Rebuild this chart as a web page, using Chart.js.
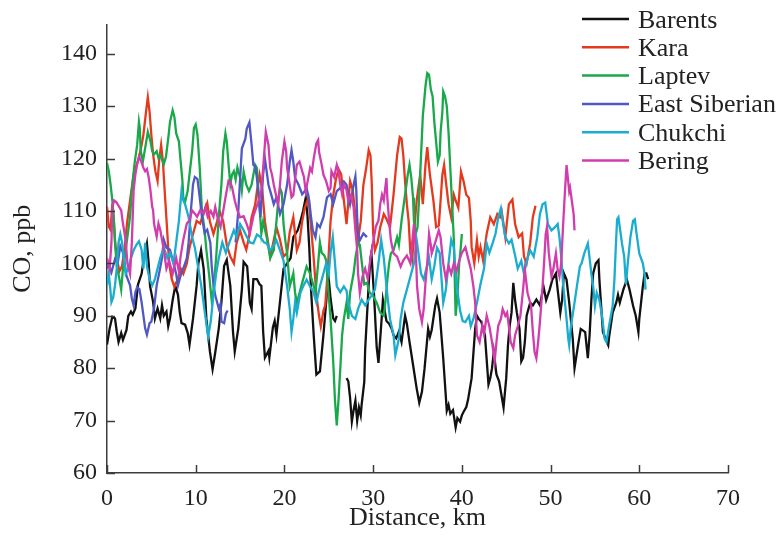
<!DOCTYPE html>
<html>
<head>
<meta charset="utf-8">
<script src="https://cdn.jsdelivr.net/npm/chart.js@4/dist/chart.umd.min.js"></script>
<style>
  html, body { margin: 0; padding: 0; background: #fff; }
  #wrap { width: 783px; height: 537px; position: relative; }
</style>
</head>
<body>
<div id="wrap"><canvas id="chart"></canvas></div>
<script>
// [distance km, CO ppb]; null marks a break in the track
const barents = [[0,84.5],[0.3,87.6],[0.6,89.8],[0.9,89.5],[1.1,87],[1.3,85],[1.6,86.7],[1.8,85.4],[2.2,87.3],[2.4,90],[2.7,90.8],[2.9,90.2],[3.2,91.4],[3.5,96],[3.9,98],[4.2,101.5],[4.5,103.8],[4.7,100],[4.85,95.7],[5.2,92.6],[5.4,89.5],[5.7,91.4],[6.0,89.5],[6.2,92],[6.4,90],[6.7,90.8],[6.9,88],[7.1,89.5],[7.4,93],[7.7,95.7],[8.0,94],[8.2,90.7],[8.4,88.6],[8.8,88.3],[9.1,86.7],[9.3,84.5],[9.5,87],[9.7,89.5],[10.1,95.7],[10.3,100],[10.6,102.5],[10.9,98.9],[11.2,89.5],[11.6,83.2],[11.9,79.8],[12.2,83],[12.6,87.6],[12.9,92.6],[13.2,99.5],[13.5,100.7],[13.9,95.7],[14.2,87],[14.4,83.2],[14.8,87.6],[15.2,95],[15.4,100.3],[15.8,99.4],[16.1,92.5],[16.3,91.3],[16.5,97],[16.9,97],[17.2,96],[17.4,95.7],[17.6,87],[17.8,82],[18.2,83.3],[18.3,82],[18.7,87.8],[18.9,89],[19.1,86.4],[19.5,92.7],[19.9,99],[20.3,100],[20.7,101],[21.0,105],[21.5,106.3],[21.8,108],[22.1,110],[22.4,112.5],[22.6,109],[22.8,103],[23.0,95],[23.3,86.3],[23.6,78.8],[24.0,79.4],[24.4,86.4],[24.8,94.5],[25.0,97],[25.2,93.3],[25.5,89.5],[25.7,89],[25.9,90],[26.4,null],[27.0,78.1],[27.2,77.5],[27.4,74.4],[27.6,69.8],[27.8,72],[28.0,73.8],[28.2,70],[28.4,72.5],[28.6,71],[28.7,73],[29.0,77.4],[29.1,83.6],[29.3,89.8],[29.5,96.1],[29.7,101],[29.8,102],[30.1,94],[30.4,84],[30.6,81],[30.9,88],[31.1,93],[31.3,91],[31.5,89],[31.8,88.5],[32.1,87.5],[32.3,86.3],[32.6,85.7],[32.9,87],[33.2,85],[33.6,90],[33.8,88.5],[34.1,85],[34.5,80.6],[34.9,76.2],[35.2,73.4],[35.5,75.5],[35.8,80],[36.2,87.5],[36.4,86],[36.6,87.3],[37.0,91.9],[37.2,93.3],[37.5,90.6],[37.9,81.9],[38.3,71.9],[38.5,73],[38.7,71.3],[39.0,72],[39.3,68.7],[39.5,70.5],[39.8,69.8],[40.0,71],[40.2,71.7],[40.5,72.6],[40.7,74],[41.1,78.1],[41.5,87.5],[41.7,90],[41.9,89.4],[42.2,88.8],[42.6,86.3],[43.0,76.9],[43.2,78.1],[43.4,80],[43.6,83.1],[43.9,78.8],[44.2,77.5],[44.7,72.5],[45.0,78.1],[45.2,84.4],[45.4,88.2],[45.6,90.6],[45.8,96.3],[46.0,93],[46.2,90.6],[46.5,87.5],[46.7,81.3],[46.9,82],[47.1,85],[47.3,90],[47.7,92.5],[48.0,92],[48.4,93.1],[48.8,92],[49.2,95.6],[49.5,93],[49.9,95],[50.2,96.9],[50.6,98.1],[50.8,95],[51.1,90.6],[51.3,93],[51.5,98.1],[51.8,96.9],[52.1,92.5],[52.5,85.6],[52.7,80],[53.1,84.4],[53.4,87.5],[53.9,86.9],[54.2,81.9],[54.4,86.3],[54.6,93.1],[54.8,98.1],[55.1,100],[55.4,100.6],[55.5,97],[55.7,91.9],[55.9,86.9],[56.2,85.6],[56.5,84.4],[56.6,86],[57.0,90.6],[57.4,92.5],[57.6,94],[57.8,92.5],[58.2,95],[58.6,96.9],[58.9,95],[59.3,91.9],[59.6,90],[59.9,86.9],[60.0,89.4],[60.2,92.5],[60.4,95.6],[60.6,98.1],[60.8,98.1],[61.0,97]];

const kara = [[0,110.8],[0.2,107],[0.4,106.4],[0.6,111.4],[0.75,108.9],[0.9,104.5],[1.1,101],[1.4,98.5],[1.7,99.5],[2.0,103],[2.25,107.6],[2.6,112],[3.0,117],[3.2,118.2],[3.6,120.1],[3.9,122.6],[4.1,124.5],[4.4,128.9],[4.6,131.7],[4.8,128.9],[5.0,124.5],[5.2,120.8],[5.45,117.6],[5.7,115.7],[5.9,120],[6.1,122.6],[6.3,119.5],[6.5,113.9],[6.8,105.8],[7.0,100],[7.3,97],[7.6,95.5],[8.0,97],[8.3,99],[8.6,98],[9.0,100],[9.3,103],[9.6,105],[10.1,108.1],[10.5,107.6],[10.85,109.5],[11.3,111.5],[11.6,108],[12.0,105.6],[12.4,108],[12.7,110],[13.1,108],[13.5,103.5],[13.9,101.3],[14.3,100],[14.6,103.8],[15.0,106.3],[15.4,104],[15.7,102.6],[16.0,105],[16.3,108.8],[16.7,111.2],[16.9,113.8],[17.2,116.9],[17.5,114],[17.8,108],[18.0,105.7],[18.4,101.3],[18.8,104.4],[19.1,106.9],[19.5,104.5],[19.9,101.3],[20.3,102],[20.6,106],[21.0,108.8],[21.4,102.5],[21.7,104],[22.0,108],[22.3,110.6],[22.7,112.5],[23.0,107],[23.3,101],[23.6,94],[23.9,90],[24.1,88],[24.4,91],[24.6,92],[24.9,99],[25.2,108],[25.5,113],[25.8,116],[26.1,118],[26.4,117],[26.7,112],[27.0,107.5],[27.4,115.7],[27.7,114],[28.0,109],[28.3,104.5],[28.6,108],[28.9,115],[29.2,118],[29.5,121.6],[29.7,120.6],[29.85,115],[30.0,105.7],[30.2,102.5],[30.5,104],[30.8,106.9],[31.2,109.4],[31.5,108.5],[31.9,106.9],[32.3,113.1],[32.7,120.6],[33.0,124.1],[33.2,123.8],[33.4,120.6],[33.6,115.6],[33.8,111.3],[34.0,108.1],[34.2,101.9],[34.4,100.6],[34.6,105.6],[34.9,111.9],[35.3,116.9],[35.6,111.3],[35.9,118.8],[36.1,122.2],[36.25,119.4],[36.4,116.9],[36.8,111.9],[37.1,106.9],[37.4,107.2],[37.6,111.9],[37.8,116.9],[38.0,118.8],[38.2,115.6],[38.5,111.3],[38.8,108.8],[39.1,113.1],[39.3,112],[39.6,110.6],[39.9,117.5],[40.2,115.6],[40.5,113.1],[40.8,112.5],[41.0,108.1],[41.1,103.1],[41.4,100],[41.7,104.4],[41.9,101.3],[42.1,103.1],[42.4,100.5],[42.8,105.7],[43.2,108.8],[43.6,107.5],[44.0,109.4],[44.3,108.8],[44.5,109.8],[44.9,105],[45.3,111.3],[45.7,112.2],[46.0,107.5],[46.4,105],[46.8,105.7],[47.0,101.3],[47.3,100],[47.7,103.8],[48.0,108.8],[48.3,111]];

const laptev = [[0,119.2],[0.2,117.6],[0.4,115.1],[0.6,112],[0.75,108.9],[0.9,104],[1.1,99.5],[1.4,97],[1.6,95],[1.8,99],[2.0,101],[2.25,104.4],[2.6,108.9],[2.8,113.9],[3.1,119],[3.4,122.6],[3.6,127],[3.7,125.8],[3.8,121.4],[4.05,119.5],[4.3,122],[4.6,125.1],[4.9,123.3],[5.1,121.4],[5.3,120.8],[5.6,121.4],[5.8,120.1],[6.0,120.7],[6.4,118.9],[6.65,120.4],[6.95,124.5],[7.1,127],[7.4,129.2],[7.6,127.9],[7.8,124.8],[8.1,123.3],[8.3,119.5],[8.5,115.8],[8.6,112.6],[8.8,111.7],[9.1,113.9],[9.3,117],[9.6,121.4],[9.8,125.8],[10.0,126.5],[10.2,124.5],[10.45,118.3],[10.7,110.1],[11.0,106.4],[11.2,102.6],[11.5,98],[11.8,93],[12.0,95],[12.3,101],[12.6,108.9],[12.9,115.1],[13.1,121.4],[13.35,124.8],[13.5,123.3],[13.7,118.9],[13.9,115.1],[14.1,117],[14.3,117.6],[14.5,116],[14.7,118.3],[15.0,116.4],[15.2,113.9],[15.4,117.5],[15.7,115],[16.0,113.8],[16.3,115],[16.7,118.8],[16.9,118.2],[17.1,113.2],[17.4,105.7],[17.6,108],[18.0,105],[18.4,101],[18.8,102.5],[19.1,108],[19.3,111.9],[19.5,114.4],[19.7,113.5],[19.9,107.5],[20.1,104.4],[20.3,101.9],[20.6,95.6],[21.0,98.1],[21.2,94.4],[21.4,92.5],[21.8,95],[22.1,96.9],[22.5,99.4],[22.9,98],[23.3,95.6],[23.5,94.4],[23.8,100],[24.0,104],[24.2,102],[24.5,101.5],[24.7,100.6],[24.9,96],[25.2,89.4],[25.5,81.3],[25.7,73.8],[25.9,69.1],[26.1,74],[26.3,80],[26.5,86.3],[26.7,89.4],[27.0,92.5],[27.2,89.4],[27.4,94.4],[27.8,98.1],[28.0,101],[28.3,104],[28.5,103.5],[28.8,99],[29.0,96],[29.3,96.3],[29.6,94.5],[30.0,93.8],[30.4,92.5],[30.8,90.6],[31.2,90],[31.4,93],[31.6,96.9],[31.8,100],[32.0,101.9],[32.3,102.5],[32.7,105],[32.9,103.5],[33.2,108.1],[33.6,113.1],[33.9,116.9],[34.1,118.8],[34.3,116.3],[34.5,112.5],[34.6,108.1],[34.8,105.6],[35.0,106.9],[35.2,113.1],[35.4,120.6],[35.6,128.1],[35.9,133.8],[36.1,136.3],[36.3,136],[36.5,133.2],[36.7,131.9],[36.9,126.9],[37.1,123.2],[37.3,119.4],[37.5,120.6],[37.6,125],[37.8,128.8],[37.9,132.8],[38.1,131.9],[38.3,130],[38.5,125],[38.7,118.1],[38.9,111.3],[39.1,104.4],[39.2,97],[39.3,90],[39.5,93.8],[39.7,100],[39.85,102.5],[40.0,105.6]];

const eastSiberian = [[0,99],[0.15,100],[0.5,98.3],[0.9,100.8],[1.2,100],[1.5,103.3],[1.8,102],[2.0,100],[2.2,97.6],[2.6,95.8],[2.8,93.3],[3.0,92],[3.2,94.5],[3.4,95.5],[3.65,95.1],[3.9,92.6],[4.3,87.6],[4.5,86.4],[4.8,88.6],[5.0,88.9],[5.3,91.4],[5.6,95.8],[5.9,98.3],[6.2,101],[6.4,104.5],[6.7,103],[7.1,102.6],[7.5,100],[7.8,98],[8.0,95.8],[8.4,98.3],[8.7,99.5],[9.0,101],[9.2,104],[9.4,108.9],[9.7,115.1],[9.9,116.5],[10.2,116.1],[10.45,112.6],[10.7,108.9],[11.0,105.8],[11.3,106.4],[11.65,103.9],[11.8,99.5],[12.0,96],[12.2,93.9],[12.6,91.4],[12.8,92.3],[12.9,88.9],[13.2,88.6],[13.4,90.4],[13.6,91],[14.0,null],[14.5,104],[14.8,110],[15.0,116],[15.2,121.9],[15.6,123.8],[15.75,125.7],[16.05,126.9],[16.3,122.6],[16.5,118.8],[16.7,118.5],[16.9,116.3],[17.1,112.6],[17.3,108.8],[17.45,113],[17.6,117],[17.8,120],[18.0,117.5],[18.2,115],[18.6,112.6],[18.8,111.3],[19.1,112.6],[19.5,109.4],[19.9,111.3],[20.3,115],[20.6,119.4],[20.8,121.6],[21.0,119.4],[21.2,116.3],[21.6,115],[22.0,113.2],[22.3,113.8],[22.5,114.4],[22.8,111.9],[23.0,108.8],[23.2,106.3],[23.5,105],[23.7,107.5],[24.0,106.9],[24.4,108.8],[24.8,112.6],[25.2,113.2],[25.5,111.3],[25.9,113.8],[26.3,114.4],[26.7,115.6],[27.0,115],[27.4,111.3],[27.8,115],[28.0,116.6],[28.1,114],[28.2,108.8],[28.3,105.7],[28.5,104.4],[28.9,105.7],[29.3,105]];

const chukchi = [[0,95.75],[0.2,98],[0.35,95.5],[0.5,92.6],[0.7,93.5],[0.9,95.8],[1.1,99],[1.3,104],[1.5,105.6],[1.7,104],[1.9,101],[2.1,98],[2.4,99],[2.7,101],[3.0,102.5],[3.3,103.5],[3.6,104.2],[3.9,102.6],[4.1,99],[4.3,103.9],[4.5,99.5],[4.8,97],[5.1,95.8],[5.4,97],[5.7,99],[6.0,101],[6.4,103],[6.8,101],[7.1,102],[7.5,100],[7.8,104],[8.1,108],[8.4,113.8],[8.6,112],[8.8,111.3],[9.2,108.8],[9.6,105],[9.9,103],[10.2,100],[10.6,96],[11.0,91],[11.4,86],[11.7,89],[12.0,94],[12.3,98],[12.6,101],[13.0,104],[13.4,102],[13.8,104],[14.3,106.3],[14.6,105],[15.0,107.5],[15.4,106.3],[15.6,105.6],[16.1,104],[16.5,103.8],[16.9,105.5],[17.3,105],[17.7,104],[18.0,103.8],[18.4,102.5],[18.8,103.5],[19.1,104.4],[19.5,102.5],[19.9,100.5],[20.3,95.6],[20.6,91.3],[20.8,86.9],[21.0,89.4],[21.2,92.5],[21.4,90.6],[21.8,94.4],[22.1,95.6],[22.5,96.9],[22.9,95.6],[23.3,94.4],[23.6,92.5],[24.0,95.6],[24.4,98.1],[24.7,100],[25.0,98.1],[25.2,102],[25.45,105],[25.7,100],[25.9,95.6],[26.3,94.5],[26.7,95.6],[27.0,94.8],[27.2,92.5],[27.6,90],[28.0,89.4],[28.3,91.3],[28.7,93.1],[29.1,92],[29.5,93.1],[29.8,93.8],[30.2,95],[30.6,100],[30.9,104.5],[31.2,101],[31.6,94],[31.9,89.4],[32.3,86.3],[32.5,82.5],[32.9,85.6],[33.1,89.4],[33.4,92.5],[33.8,95],[34.2,97.5],[34.6,100],[34.9,104.5],[35.1,102],[35.4,98],[35.7,96.9],[36.0,99],[36.3,101],[36.6,97],[36.9,99.5],[37.2,103],[37.5,102],[37.9,92.5],[38.2,95],[38.5,100],[38.8,104.5],[39.1,103],[39.4,96],[39.8,91],[40.1,89],[40.4,88.8],[40.8,90],[41.0,88],[41.3,89.4],[41.7,92.5],[42.1,96],[42.5,99],[42.8,103.8],[43.1,102],[43.5,104],[43.8,105.7],[44.1,108.8],[44.4,110.5],[44.7,107],[44.9,105],[45.3,103.8],[45.6,104.5],[46.0,101.5],[46.3,99],[46.7,100.5],[47.0,98],[47.4,101],[47.7,102.5],[48.1,101.3],[48.5,105],[48.8,109.4],[49.1,111.3],[49.4,111.6],[49.7,107.5],[50.1,106.3],[50.5,106.9],[50.8,107.5],[51.0,105],[51.2,101.3],[51.4,96.3],[51.8,89.4],[52.0,85.6],[52.1,84.4],[52.3,88.1],[52.7,92.5],[53.0,96],[53.3,99.4],[53.5,100],[53.8,101.9],[54.2,103.8],[54.4,101],[54.6,98],[54.8,95.6],[55.0,91.9],[55.2,94.4],[55.5,93],[55.8,90],[56.1,85.6],[56.3,85],[56.6,88.1],[57.0,91.9],[57.2,97],[57.35,103],[57.5,108.4],[57.65,108.8],[57.85,106.3],[58.05,103.8],[58.3,101.3],[58.5,96],[58.7,100],[59.0,105],[59.3,108.1],[59.5,108.4],[59.7,105.6],[60.0,101.9],[60.4,100],[60.6,98],[60.7,95]];

const bering = [[0,101],[0.3,99],[0.5,104],[0.6,110.75],[0.8,112],[1.05,111.7],[1.3,111],[1.6,110.1],[1.8,107.6],[2.1,104.5],[2.3,100],[2.6,98],[2.8,104],[3.0,113.9],[3.2,117],[3.4,118.9],[3.6,120.4],[3.85,119.5],[4.1,118.25],[4.3,117.6],[4.5,118],[4.7,116.4],[4.9,113.9],[5.1,110.75],[5.2,110.1],[5.3,107.6],[5.6,105.1],[5.8,107.6],[6.0,106.4],[6.2,104.5],[6.4,102.6],[6.7,99],[7.0,100.5],[7.4,98],[7.8,101],[8.1,98.5],[8.3,101.4],[8.6,104.5],[9.0,107.6],[9.3,108.25],[9.6,110.1],[9.9,109.5],[10.15,108.9],[10.5,110.1],[10.9,109.5],[11.1,110.75],[11.35,108.9],[11.7,110],[12.0,108.9],[12.2,110.75],[12.5,108.5],[12.8,107],[13.1,110],[13.4,113],[13.7,115.75],[13.9,115.5],[14.1,114.5],[14.4,112],[14.7,110.1],[15.0,108.8],[15.4,109],[15.75,107.5],[16.1,105.7],[16.5,109],[16.9,111],[17.2,112.5],[17.4,114],[17.6,118.2],[17.9,125.1],[18.2,122.6],[18.4,118.2],[18.6,116.9],[18.8,115],[19.1,112.6],[19.3,111.3],[19.5,115],[19.7,119.4],[20.0,123.2],[20.2,121.3],[20.3,118.2],[20.6,115],[20.8,112.6],[21.0,113],[21.2,116],[21.4,118.8],[21.7,119.4],[22.0,117.6],[22.2,116.5],[22.4,113.8],[22.6,115.5],[22.9,118.2],[23.1,117.5],[23.3,120],[23.6,122.9],[23.8,123.5],[23.9,121.3],[24.2,118.8],[24.4,116.9],[24.7,115.7],[25.0,113.8],[25.2,114.4],[25.3,117.6],[25.6,116.5],[25.9,118.8],[26.1,117.5],[26.3,115],[26.5,113.2],[26.7,115],[27.0,114],[27.2,111.9],[27.5,113],[27.8,110.7],[28.0,106.3],[28.2,102.6],[28.3,98.1],[28.5,94.4],[28.8,97.5],[29.1,99],[29.4,97],[29.7,101],[30.0,104],[30.3,107],[30.6,108.2],[30.8,111.3],[31.0,113.1],[31.2,112],[31.5,116.3],[31.6,112.5],[31.8,108.1],[32.0,104.4],[32.3,101.9],[32.7,101.3],[33.1,99.4],[33.4,100.6],[33.8,101.5],[34.2,100],[34.4,104],[34.6,107.5],[34.8,103],[34.95,95.6],[35.2,91.3],[35.5,88.8],[35.7,91.3],[35.9,96.3],[36.1,100],[36.3,105.6],[36.5,103.5],[36.6,101.9],[37.0,104],[37.4,106.3],[37.6,105],[37.9,100],[38.2,97],[38.5,99.5],[38.8,98],[39.1,100],[39.4,98.5],[39.7,100.5],[40.0,102],[40.4,103.1],[40.7,101],[41.0,99],[41.3,95.6],[41.5,92.5],[41.7,86.3],[42.0,85],[42.3,88.1],[42.5,86.5],[42.8,90],[43.1,88],[43.4,85],[43.7,81.3],[43.9,85],[44.1,88.1],[44.4,89.4],[44.6,91.3],[44.9,90],[45.1,90.6],[45.3,88],[45.5,85],[45.8,83.8],[46.0,86.3],[46.3,88],[46.6,90],[46.9,95],[47.1,98.8],[47.4,94.4],[47.8,91.9],[48.0,87],[48.2,83.1],[48.4,81.9],[48.6,85],[48.8,88.8],[49.1,95.6],[49.3,101],[49.45,105.6],[49.6,107],[49.8,102],[50.0,99],[50.1,97.5],[50.3,98.8],[50.6,101.9],[50.8,98.8],[51.0,97.5],[51.2,100],[51.4,106.9],[51.6,113.1],[51.8,118.75],[51.95,116.25],[52.1,113.75],[52.2,114.4],[52.4,111.9],[52.6,109.4],[52.7,106.3]];

const seaNames = ['Barents', 'Kara', 'Laptev', 'East Siberian', 'Chukchi', 'Bering'];
const seaColors = ['#111111', '#e5391e', '#19a84a', '#4f58c3', '#1badcf', '#d13dac'];
const seaTracks = [barents, kara, laptev, eastSiberian, chukchi, bering];

const xTicks = [0, 10, 20, 30, 40, 50, 60, 70];
const yTicks = [60, 70, 80, 90, 100, 110, 120, 130, 140];

const SERIF = "'Liberation Serif', 'Times New Roman', serif";
const AXIS = '#3c3c3c';

// inward tick marks, like the printed figure
const innerTicks = {
  id: 'innerTicks',
  afterDraw(chart) {
    const { ctx, chartArea: a, scales } = chart;
    ctx.save();
    ctx.strokeStyle = AXIS;
    ctx.lineWidth = 1.5;
    ctx.beginPath();
    xTicks.forEach(v => {
      const px = Math.round(scales.x.getPixelForValue(v)) + 0.5;
      ctx.moveTo(px, a.bottom);
      ctx.lineTo(px, a.bottom - 8);
    });
    yTicks.forEach(v => {
      const py = Math.round(scales.y.getPixelForValue(v)) + 0.5;
      ctx.moveTo(a.left, py);
      ctx.lineTo(a.left + 8, py);
    });
    ctx.stroke();
    ctx.restore();
  }
};

// legend block in the top right corner
const cornerLegend = {
  id: 'cornerLegend',
  afterDraw(chart) {
    const ctx = chart.ctx;
    ctx.save();
    ctx.font = '26px ' + SERIF;
    ctx.textBaseline = 'alphabetic';
    ctx.textAlign = 'left';
    chart.data.datasets.forEach((ds, i) => {
      const y = 19 + i * 28.3;
      ctx.strokeStyle = ds.borderColor;
      ctx.lineWidth = 2.5;
      ctx.beginPath();
      ctx.moveTo(582, y);
      ctx.lineTo(629, y);
      ctx.stroke();
      ctx.fillStyle = '#222';
      ctx.fillText(ds.label, 638, y + 8.5);
    });
    ctx.restore();
  }
};

const ctx = document.getElementById('chart').getContext('2d');
new Chart(ctx, {
  type: 'line',
  data: {
    datasets: seaTracks.map((track, i) => ({
      label: seaNames[i],
      data: track.map(([x, y]) => ({ x, y })),
      borderColor: seaColors[i],
      backgroundColor: seaColors[i],
      borderWidth: 2.3,
      pointRadius: 0,
      tension: 0,
      spanGaps: false,
      order: seaTracks.length - i,
    })),
  },
  options: {
    responsive: true,
    maintainAspectRatio: false,
    animation: false,
    layout: { padding: { left: 0, right: 55, top: 17, bottom: 0 } },
    plugins: {
      legend: { display: false },
      tooltip: { enabled: false },
    },
    scales: {
      x: {
        type: 'linear',
        min: 0,
        max: 70,
        afterFit(scale) { scale.height = 64; },
        afterBuildTicks(scale) { scale.ticks = xTicks.map(v => ({ value: v })); },
        grid: { display: false, drawTicks: false },
        border: { display: true, color: AXIS, width: 1.5 },
        ticks: { padding: 11, color: '#222', font: { family: SERIF, size: 24 } },
        title: {
          display: true,
          text: 'Distance, km',
          color: '#222',
          font: { family: SERIF, size: 26 },
          padding: { top: 0, bottom: 3 },
        },
      },
      y: {
        type: 'linear',
        min: 60,
        max: 145.6,
        afterFit(scale) { scale.width = 107; },
        afterBuildTicks(scale) { scale.ticks = yTicks.map(v => ({ value: v })); },
        grid: { display: false, drawTicks: false },
        border: { display: true, color: AXIS, width: 1.5 },
        ticks: { padding: 10, color: '#222', font: { family: SERIF, size: 24 } },
        title: {
          display: true,
          text: 'CO, ppb',
          color: '#222',
          font: { family: SERIF, size: 26 },
          padding: { top: 8, bottom: 0 },
        },
      },
    },
  },
  plugins: [innerTicks, cornerLegend],
});
</script>
</body>
</html>
